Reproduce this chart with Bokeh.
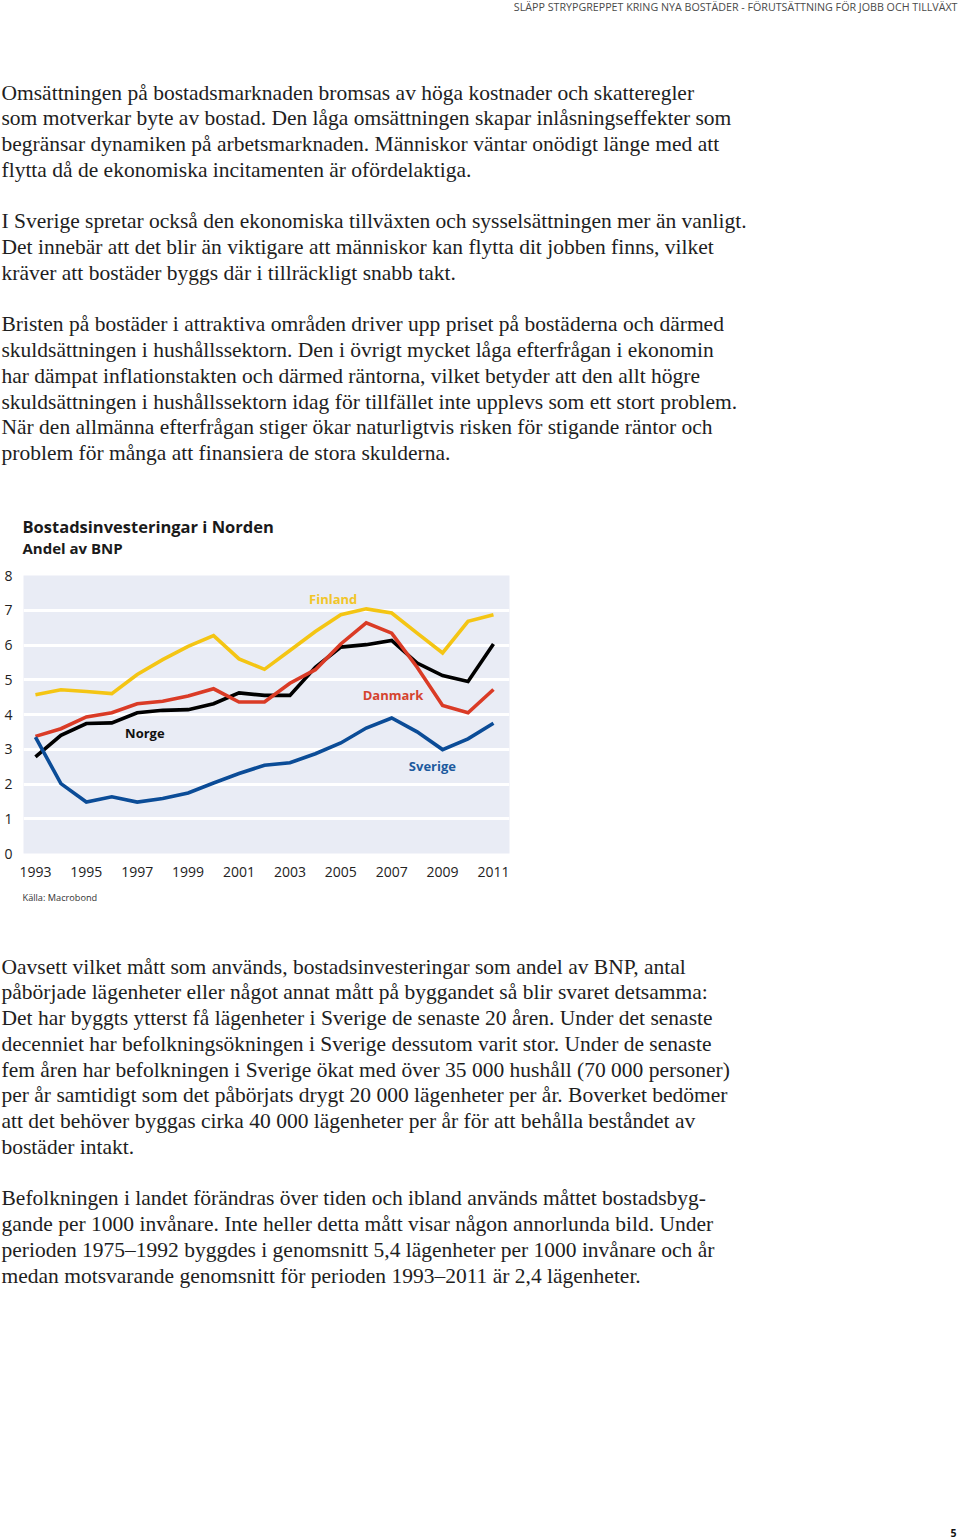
from bokeh.plotting import figure
from bokeh.models import Range1d, FixedTicker, ColumnDataSource
from bokeh.core.properties import value
from bokeh.embed import file_html
from bokeh.resources import INLINE

# ---------------- data ----------------
years = list(range(1993, 2012))
finland = [4.57, 4.71, 4.66, 4.60, 5.15, 5.58, 5.96, 6.27, 5.60, 5.30, 5.84, 6.39, 6.87, 7.04, 6.92, 6.34, 5.77, 6.68, 6.87]
danmark = [3.37, 3.59, 3.93, 4.05, 4.31, 4.38, 4.53, 4.74, 4.36, 4.36, 4.90, 5.29, 6.03, 6.64, 6.34, 5.36, 4.26, 4.05, 4.72]
norge   = [2.78, 3.40, 3.74, 3.76, 4.05, 4.12, 4.14, 4.31, 4.62, 4.55, 4.55, 5.36, 5.94, 6.01, 6.13, 5.48, 5.12, 4.95, 6.03]
sverige = [3.35, 2.01, 1.48, 1.63, 1.48, 1.58, 1.74, 2.03, 2.30, 2.54, 2.61, 2.87, 3.18, 3.61, 3.90, 3.50, 2.99, 3.30, 3.75]
x_ticks = [1993, 1995, 1997, 1999, 2001, 2003, 2005, 2007, 2009, 2011]
y_ticks = [0, 1, 2, 3, 4, 5, 6, 7, 8]

chart_title = "Bostadsinvesteringar i Norden"
chart_subtitle = "Andel av BNP"
source_note = "Källa: Macrobond"
series_names = ["Finland", "Danmark", "Norge", "Sverige"]

header = "SLÄPP STRYPGREPPET KRING NYA BOSTÄDER - FÖRUTSÄTTNING FÖR JOBB OCH TILLVÄXT"
page_number = "5"

top_lines = [
    "Omsättningen på bostadsmarknaden bromsas av höga kostnader och skatteregler",
    "som motverkar byte av bostad. Den låga omsättningen skapar inlåsningseffekter som",
    "begränsar dynamiken på arbetsmarknaden. Människor väntar onödigt länge med att",
    "flytta då de ekonomiska incitamenten är ofördelaktiga.",
    "",
    "I Sverige spretar också den ekonomiska tillväxten och sysselsättningen mer än vanligt.",
    "Det innebär att det blir än viktigare att människor kan flytta dit jobben finns, vilket",
    "kräver att bostäder byggs där i tillräckligt snabb takt.",
    "",
    "Bristen på bostäder i attraktiva områden driver upp priset på bostäderna och därmed",
    "skuldsättningen i hushållssektorn. Den i övrigt mycket låga efterfrågan i ekonomin",
    "har dämpat inflationstakten och därmed räntorna, vilket betyder att den allt högre",
    "skuldsättningen i hushållssektorn idag för tillfället inte upplevs som ett stort problem.",
    "När den allmänna efterfrågan stiger ökar naturligtvis risken för stigande räntor och",
    "problem för många att finansiera de stora skulderna.",
]
bottom_lines = [
    "Oavsett vilket mått som används, bostadsinvesteringar som andel av BNP, antal",
    "påbörjade lägenheter eller något annat mått på byggandet så blir svaret detsamma:",
    "Det har byggts ytterst få lägenheter i Sverige de senaste 20 åren. Under det senaste",
    "decenniet har befolkningsökningen i Sverige dessutom varit stor. Under de senaste",
    "fem åren har befolkningen i Sverige ökat med över 35 000 hushåll (70 000 personer)",
    "per år samtidigt som det påbörjats drygt 20 000 lägenheter per år. Boverket bedömer",
    "att det behöver byggas cirka 40 000 lägenheter per år för att behålla beståndet av",
    "bostäder intakt.",
    "",
    "Befolkningen i landet förändras över tiden och ibland används måttet bostadsbyg-",
    "gande per 1000 invånare. Inte heller detta mått visar någon annorlunda bild. Under",
    "perioden 1975–1992 byggdes i genomsnitt 5,4 lägenheter per 1000 invånare och år",
    "medan motsvarande genomsnitt för perioden 1993–2011 är 2,4 lägenheter.",
]

# ---------------- styles ----------------
W = 960
TOP_H, CHART_H, BOT_H = 560, 330, 649
SERIF = value("Liberation Serif")
SANS = value("Open Sans")
BODY_SIZE = "21.5px"
LINE_H = 25.75
TXT = "#1e1e1e"

C_FIN, C_DAN, C_NOR, C_SVE = "#F4C514", "#DA3B26", "#000000", "#0B4C97"
C_FIN_T, C_DAN_T, C_NOR_T, C_SVE_T = "#F1C52A", "#D5432E", "#111111", "#1D5A9E"
BG = "#E9ECF5"


def text_fig(h):
    f = figure(width=W, height=h, x_range=Range1d(0, W), y_range=Range1d(h, 0),
               x_axis_type=None, y_axis_type=None, toolbar_location=None,
               output_backend="svg", min_border=0, outline_line_color=None,
               background_fill_color="white", border_fill_color="white")
    f.grid.visible = False
    return f


def body(f, lines, y0):
    ys = [y0 + i * LINE_H for i in range(len(lines))]
    src = ColumnDataSource(dict(x=[1] * len(lines), y=ys, t=lines))
    f.text(x="x", y="y", text="t", source=src, text_font=SERIF, text_font_size=BODY_SIZE,
           text_color=TXT, text_align="left", text_baseline="middle")


# ---------------- top text ----------------
top = text_fig(TOP_H)
top.text(x=[957], y=[6.6], text=[header], text_font=SANS, text_font_size="10.7px",
         text_color="#4a4a4a", text_align="right", text_baseline="middle")
body(top, top_lines, 92)
top.text(x=[22], y=[526], text=[chart_title], text_font=SANS, text_font_size="16.5px",
         text_font_style="bold", text_color="#1a1a1a", text_align="left", text_baseline="middle")
top.text(x=[22], y=[547.5], text=[chart_subtitle], text_font=SANS, text_font_size="15px",
         text_font_style="bold", text_color="#1a1a1a", text_align="left", text_baseline="middle")

# ---------------- chart ----------------
p = figure(width=W, height=CHART_H, x_range=Range1d(1992.53, 2011.63), y_range=Range1d(0, 8),
           toolbar_location=None, output_backend="svg",
           min_border_left=23, min_border_right=451, min_border_top=15, min_border_bottom=37,
           background_fill_color=BG, border_fill_color="white", outline_line_color=None)

p.xaxis.ticker = FixedTicker(ticks=x_ticks)
p.yaxis.ticker = FixedTicker(ticks=y_ticks)
for ax in (p.xaxis[0], p.yaxis[0]):
    ax.axis_line_color = None
    ax.major_tick_line_color = None
    ax.minor_tick_line_color = None
    ax.major_tick_out = 0
    ax.major_tick_in = 0
    ax.major_label_text_font = "Open Sans"
    ax.major_label_text_font_size = "14px"
    ax.major_label_text_color = "#222222"
p.xaxis.major_label_standoff = 13
p.yaxis.major_label_standoff = 11
p.xgrid.grid_line_color = None
p.ygrid.grid_line_color = "white"
p.ygrid.grid_line_width = 3

src = ColumnDataSource(dict(x=years, fin=finland, dan=danmark, nor=norge, sve=sverige))
p.line("x", "fin", source=src, line_color=C_FIN, line_width=3.6, line_join="miter")
p.line("x", "nor", source=src, line_color=C_NOR, line_width=3.6, line_join="miter")
p.line("x", "dan", source=src, line_color=C_DAN, line_width=3.6, line_join="miter")
p.line("x", "sve", source=src, line_color=C_SVE, line_width=3.6, line_join="miter")

lab = ColumnDataSource(dict(
    x=[2004.7, 2007.05, 1997.3, 2008.6],
    y=[7.33, 4.55, 3.48, 2.53],
    t=series_names,
    c=[C_FIN_T, C_DAN_T, C_NOR_T, C_SVE_T],
))
p.text(x="x", y="y", text="t", source=lab, text_color="c", text_font=SANS,
       text_font_size="13px", text_font_style="bold", text_align="center", text_baseline="middle")

# ---------------- bottom text ----------------
bot = text_fig(BOT_H)
off = TOP_H + CHART_H
bot.text(x=[22], y=[897 - off], text=[source_note], text_font=SANS, text_font_size="9.2px",
         text_color="#333333", text_align="left", text_baseline="middle")
body(bot, bottom_lines, 966 - off)
bot.text(x=[956], y=[1532.5 - off], text=[page_number], text_font=SANS, text_font_size="10.5px",
         text_font_style="bold", text_color="#111111", text_align="right", text_baseline="middle")

open("out.html", "w").write(file_html([top, p, bot], INLINE))
